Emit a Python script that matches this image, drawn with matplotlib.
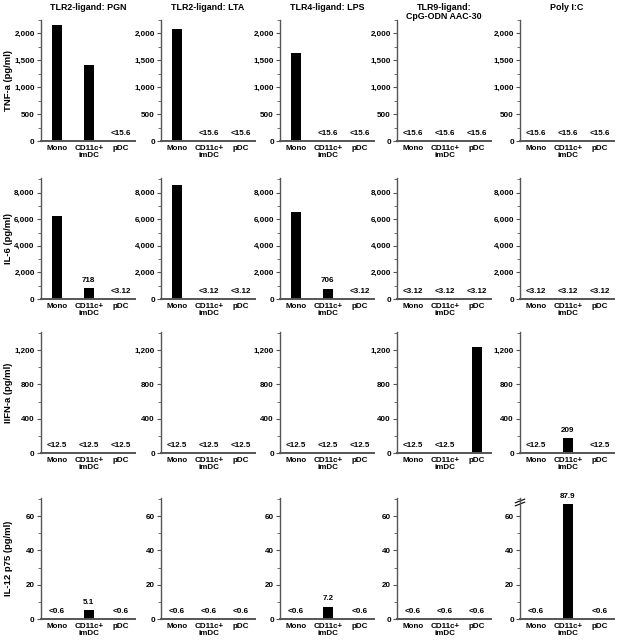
import matplotlib
matplotlib.use("Agg")
import matplotlib.pyplot as plt
from matplotlib.ticker import FuncFormatter, MultipleLocator

plt.rcParams['font.family'] = ['Liberation Sans', 'DejaVu Sans']
plt.rcParams['font.weight'] = 'bold'

# ---- data ----
ligands = ["TLR2-ligand: PGN", "TLR2-ligand: LTA", "TLR4-ligand: LPS",
           "TLR9-ligand:\nCpG-ODN AAC-30", "Poly I:C"]
cells = ["Mono", "CD11c+\nimDC", "pDC"]
cytokines = ["TNF-a (pg/ml)", "IL-6 (pg/ml)", "IIFN-a (pg/ml)", "IL-12 p75 (pg/ml)"]

# bar heights as drawn (0 = below detection limit)
tnf = [[2160, 1405, 0], [2090, 0, 0], [1640, 0, 0], [0, 0, 0], [0, 0, 0]]
il6 = [[6250, 800, 0], [8600, 0, 0], [6550, 780, 0], [0, 0, 0], [0, 0, 0]]
ifn = [[0, 0, 0], [0, 0, 0], [0, 0, 0], [0, 0, 1235], [0, 175, 0]]
il12 = [[0, 5.1, 0], [0, 0, 0], [0, 7.2, 0], [0, 0, 0], [0, 87.9, 0]]

# value labels ("" = none)
tnf_lbl = [["", "", "<15.6"], ["", "<15.6", "<15.6"], ["", "<15.6", "<15.6"],
           ["<15.6", "<15.6", "<15.6"], ["<15.6", "<15.6", "<15.6"]]
il6_lbl = [["", "718", "<3.12"], ["", "<3.12", "<3.12"], ["", "706", "<3.12"],
           ["<3.12", "<3.12", "<3.12"], ["<3.12", "<3.12", "<3.12"]]
ifn_lbl = [["<12.5", "<12.5", "<12.5"], ["<12.5", "<12.5", "<12.5"],
           ["<12.5", "<12.5", "<12.5"], ["<12.5", "<12.5", ""],
           ["<12.5", "209", "<12.5"]]
il12_lbl = [["<0.6", "5.1", "<0.6"], ["<0.6", "<0.6", "<0.6"], ["<0.6", "7.2", "<0.6"],
            ["<0.6", "<0.6", "<0.6"], ["<0.6", "87.9", "<0.6"]]

rows = [
    dict(vals=tnf, lbl=tnf_lbl, ylim=2250, major=500, minor=250, brk=None),
    dict(vals=il6, lbl=il6_lbl, ylim=9100, major=2000, minor=1000, brk=None),
    dict(vals=ifn, lbl=ifn_lbl, ylim=1410, major=400, minor=200, brk=None),
    dict(vals=il12, lbl=il12_lbl, ylim=70.5, major=20, minor=10, brk=67),
]

W, H = 620, 640
fig = plt.figure(figsize=(W / 100, H / 100), dpi=100)

col_left = [41, 161, 280, 397, 520]
col_w = 94
row_zero = [141, 299, 453, 619]
row_h = 121

axcol = "#555555"
fs = 5.8
fmt = FuncFormatter(lambda v, p: f"{v:,.0f}")

for r, rd in enumerate(rows):
    for c in range(5):
        ax = fig.add_axes([col_left[c] / W, 1 - row_zero[r] / H, col_w / W, row_h / H])
        vals = rd["vals"][c]
        drawn = [min(v, rd["brk"]) if rd["brk"] else v for v in vals]
        x = list(range(3))
        ax.bar(x, drawn, width=0.32, color="black")
        ax.set_xlim(-0.5, 2.45)
        ax.set_ylim(0, rd["ylim"])
        ax.yaxis.set_major_locator(MultipleLocator(rd["major"]))
        ax.yaxis.set_minor_locator(MultipleLocator(rd["minor"]))
        ax.yaxis.set_major_formatter(fmt)
        for s in ["top", "right"]:
            ax.spines[s].set_visible(False)
        ax.spines["left"].set_color(axcol)
        ax.spines["left"].set_linewidth(1.0)
        ax.spines["bottom"].set_color(axcol)
        ax.spines["bottom"].set_linewidth(1.4)
        ax.tick_params(axis="y", which="major", length=3, width=0.8, color=axcol,
                       labelsize=fs, pad=1.5)
        ax.tick_params(axis="y", which="minor", length=2, width=0.6, color=axcol)
        ax.tick_params(axis="x", length=0, labelsize=fs, pad=3)
        ax.set_xticks(x)
        ax.set_xticklabels(cells, linespacing=0.95)
        for lab in ax.get_xticklabels() + ax.get_yticklabels():
            lab.set_fontweight("bold")
        for i, t in enumerate(rd["lbl"][c]):
            if t:
                ax.annotate(t, (i, drawn[i]), xytext=(0, 3), textcoords="offset points",
                            ha="center", va="bottom", fontsize=fs, fontweight="bold")
        if rd["brk"] and vals[1] > rd["brk"]:
            yb = rd["brk"] / rd["ylim"]
            for dy in (0.0, 0.025):
                ax.plot([-0.05, 0.05], [yb - 0.015 + dy, yb + 0.015 + dy],
                        transform=ax.transAxes, color="black", lw=0.8, clip_on=False)
        if r == 0:
            fig.text((col_left[c] + col_w / 2) / W, 1 - 3 / H, ligands[c],
                     ha="center", va="top", fontsize=6.4, fontweight="bold",
                     linespacing=1.05)
    fig.text(9 / W, 1 - (row_zero[r] - row_h / 2) / H, cytokines[r], rotation=90,
             ha="center", va="center", fontsize=6.8, fontweight="bold")

fig.savefig("out.png", dpi=100)
